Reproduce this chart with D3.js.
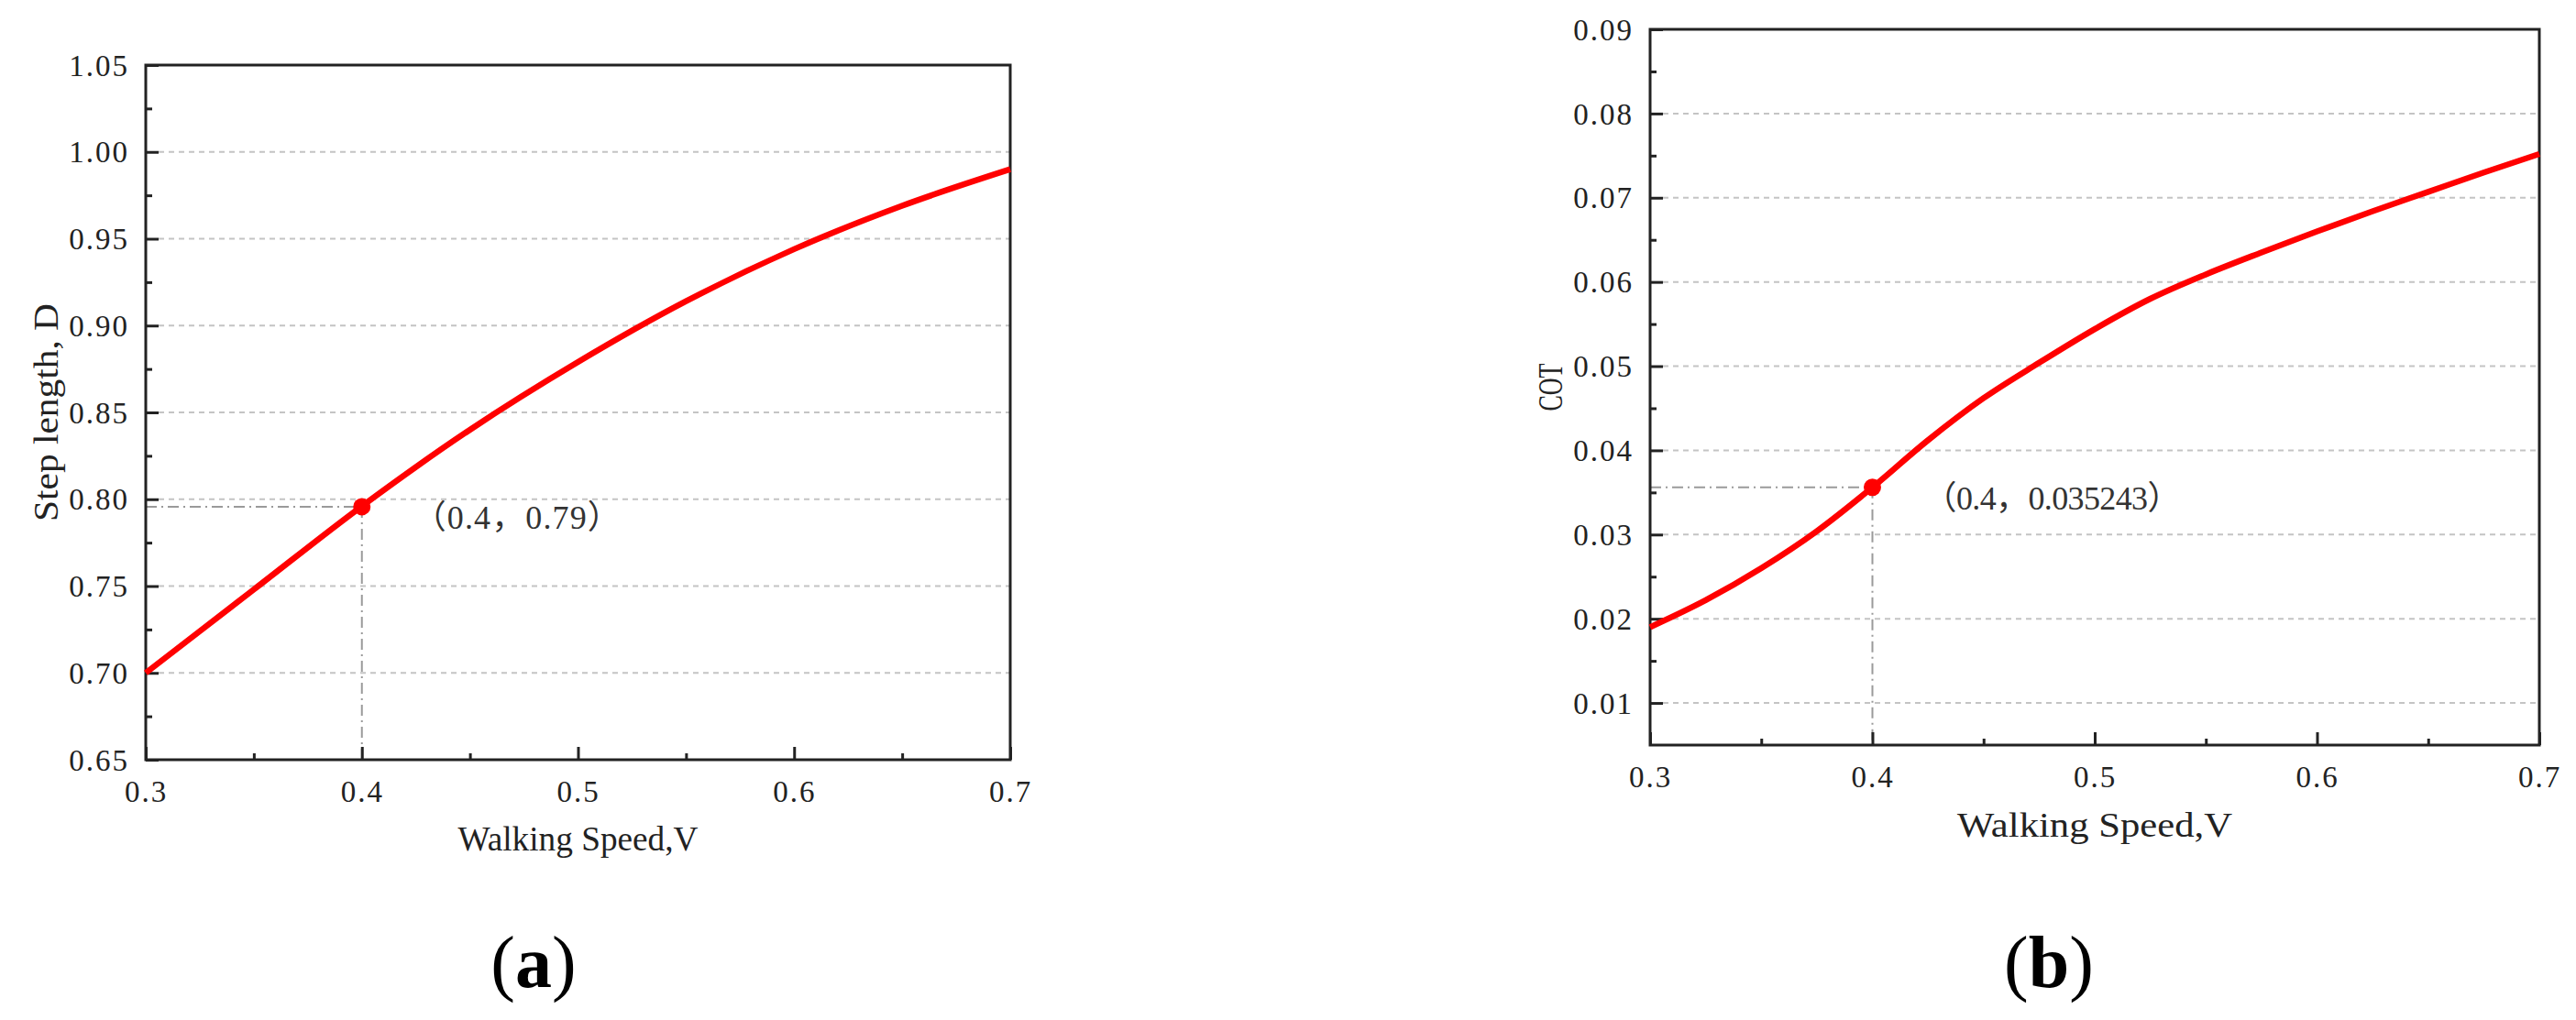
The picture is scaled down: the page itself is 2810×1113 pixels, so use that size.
<!DOCTYPE html>
<html><head><meta charset="utf-8">
<script src="https://cdn.jsdelivr.net/npm/d3@7"></script>
<style>body{margin:0;background:#fff}</style>
</head><body>
<svg id="c" width="2810" height="1113" xmlns="http://www.w3.org/2000/svg"></svg>
<script>
// ---- data ----
const speedA = [0.30, 0.35, 0.40, 0.45, 0.50, 0.55, 0.60, 0.65, 0.70];
const stepLength = [0.700, 0.748, 0.796, 0.840, 0.879, 0.914, 0.944, 0.969, 0.990];
const speedB = [0.300, 0.325, 0.350, 0.375, 0.400, 0.425, 0.450, 0.475, 0.500, 0.525, 0.550, 0.575, 0.600, 0.625, 0.650, 0.675, 0.700];
const cot = [0.0190, 0.0222, 0.0260, 0.0304, 0.0356, 0.0412, 0.0462, 0.0504, 0.0544, 0.0580, 0.0609, 0.0635, 0.0660, 0.0684, 0.0707, 0.0730, 0.0752];
const xTicks = [0.3, 0.4, 0.5, 0.6, 0.7];
const xMinor = [0.35, 0.45, 0.55, 0.65];
const yTicksA = [0.65, 0.70, 0.75, 0.80, 0.85, 0.90, 0.95, 1.00, 1.05];
const yMinorA = [0.675, 0.725, 0.775, 0.825, 0.875, 0.925, 0.975, 1.025];
const yTicksB = [0.01, 0.02, 0.03, 0.04, 0.05, 0.06, 0.07, 0.08, 0.09];
const yMinorB = [0.015, 0.025, 0.035, 0.045, 0.055, 0.065, 0.075, 0.085];
const markA = [0.4, 0.7957];
const markB = [0.4, 0.0356];
const labelA = "（0.4，0.79）";
const labelB = "（0.4，0.035243）";
const xTitle = "Walking Speed,V";
const yTitleA = "Step length, D";
const yTitleB = "COT";
const panelTags = ["a", "b"];

const svg = d3.select("#c");

function panel(cfg) {
  const x = d3.scaleLinear().domain(cfg.xDomain).range([cfg.left, cfg.right]);
  const y = d3.scaleLinear().domain(cfg.yDomain).range([cfg.bottom, cfg.top]);
  const g = svg.append("g");

  // grid
  g.selectAll("line.grid").data(cfg.grid).enter().append("line")
    .attr("x1", cfg.left + 14).attr("x2", cfg.right)
    .attr("y1", d => y(d)).attr("y2", d => y(d))
    .attr("stroke", "#c4c4c4").attr("stroke-width", 2).attr("stroke-dasharray", "6,5");

  // dash-dot reference lines
  const m = cfg.mark;
  g.append("line").attr("x1", cfg.left).attr("x2", x(m[0]))
    .attr("y1", y(m[1])).attr("y2", y(m[1]))
    .attr("stroke", "#9a9a9a").attr("stroke-width", 2).attr("stroke-dasharray", "12,5,2,5");
  g.append("line").attr("x1", x(m[0])).attr("x2", x(m[0]))
    .attr("y1", y(m[1])).attr("y2", cfg.bottom)
    .attr("stroke", "#9a9a9a").attr("stroke-width", 2).attr("stroke-dasharray", "12,5,2,5");

  // axes
  const fmtY = d3.format(cfg.yFmt), fmtX = d3.format(".1f");
  const ax = g.append("g").attr("transform", `translate(0,${cfg.bottom})`)
    .call(d3.axisBottom(x).tickValues(xTicks).tickSize(-14).tickPadding(0).tickFormat(fmtX));
  const axm = g.append("g").attr("transform", `translate(0,${cfg.bottom})`)
    .call(d3.axisBottom(x).tickValues(xMinor).tickSize(-7).tickFormat(""));
  const ay = g.append("g").attr("transform", `translate(${cfg.left},0)`)
    .call(d3.axisLeft(y).tickValues(cfg.yTicks).tickSize(-14).tickPadding(0).tickFormat(fmtY));
  const aym = g.append("g").attr("transform", `translate(${cfg.left},0)`)
    .call(d3.axisLeft(y).tickValues(cfg.yMinor).tickSize(-7).tickFormat(""));
  [ax, axm, ay, aym].forEach(a => {
    a.select(".domain").remove();
    a.selectAll(".tick line").attr("stroke", "#222").attr("stroke-width", 3);
  });
  ax.selectAll(".tick text").attr("y", 46).attr("dy", 0)
    .attr("font-family", "Liberation Serif, serif").attr("font-size", 33)
    .attr("letter-spacing", 2).attr("fill", "#222");
  ay.selectAll(".tick text").attr("x", -18).attr("dy", "0.34em")
    .attr("font-family", "Liberation Serif, serif").attr("font-size", 33)
    .attr("letter-spacing", 2).attr("fill", "#222");

  // frame
  g.append("rect").attr("x", cfg.left).attr("y", cfg.top)
    .attr("width", cfg.right - cfg.left).attr("height", cfg.bottom - cfg.top)
    .attr("fill", "none").attr("stroke", "#222").attr("stroke-width", 3);

  // curve
  const line = d3.line().x(d => x(d[0])).y(d => y(d[1])).curve(d3.curveMonotoneX);
  g.append("path").datum(d3.zip(cfg.xs, cfg.ys)).attr("d", line)
    .attr("fill", "none").attr("stroke", "#ff0000").attr("stroke-width", 6.5)
    .attr("stroke-linejoin", "round");

  // marker + label
  g.append("circle").attr("cx", x(m[0])).attr("cy", y(m[1])).attr("r", 9.5).attr("fill", "#ff0000");
  g.append("text").attr("x", x(m[0]) + 56).attr("y", y(m[1]) + 24)
    .attr("font-family", "Liberation Serif, Noto Sans CJK SC, serif").attr("font-size", 36)
    .attr("textLength", cfg.labelLen).attr("lengthAdjust", "spacing")
    .attr("fill", "#333").text(cfg.label);

  // titles
  const cx = (cfg.left + cfg.right) / 2;
  g.append("text").attr("x", cx).attr("y", cfg.bottom + cfg.xTitleDy)
    .attr("text-anchor", "middle").attr("font-family", "Liberation Serif, serif")
    .attr("font-size", 38).attr("fill", "#222")
    .attr("textLength", cfg.xTitleLen).attr("lengthAdjust", "spacingAndGlyphs").text(xTitle);
  const cy = (cfg.top + cfg.bottom) / 2;
  g.append("text").attr("transform", `translate(${cfg.left - 96},${cy}) rotate(-90)`)
    .attr("text-anchor", "middle").attr("font-family", "Liberation Serif, serif")
    .attr("font-size", 38).attr("fill", "#222")
    .attr("textLength", cfg.yTitleLen).attr("lengthAdjust", "spacingAndGlyphs").text(cfg.yTitle);

  // panel tag
  const t = svg.append("text").attr("x", cfg.tagX).attr("y", 1077).attr("text-anchor", "middle")
    .attr("font-family", "Liberation Serif, serif").attr("font-size", 80).attr("fill", "#000");
  t.append("tspan").text("(");
  t.append("tspan").attr("font-weight", "bold").text(cfg.tag);
  t.append("tspan").text(")");
}

panel({
  left: 159, right: 1102, top: 71, bottom: 829,
  xDomain: [0.3, 0.7], yDomain: [0.65, 1.05],
  yTicks: yTicksA, yMinor: yMinorA, yFmt: ".2f",
  grid: yTicksA.slice(1, -1),
  xs: speedA, ys: stepLength, mark: markA, label: labelA, labelLen: 226,
  yTitle: yTitleA, xTitleDy: 99, xTitleLen: 262, yTitleLen: 238,
  tag: panelTags[0], tagX: 582
});
panel({
  left: 1800, right: 2770, top: 32, bottom: 813,
  xDomain: [0.3, 0.7], yDomain: [0.005, 0.09],
  yTicks: yTicksB, yMinor: yMinorB, yFmt: ".2f",
  grid: yTicksB.slice(0, -1),
  xs: speedB, ys: cot, mark: markB, label: labelB, labelLen: 280,
  yTitle: yTitleB, xTitleDy: 100, xTitleLen: 300, yTitleLen: 52,
  tag: panelTags[1], tagX: 2235
});
</script>
</body></html>
